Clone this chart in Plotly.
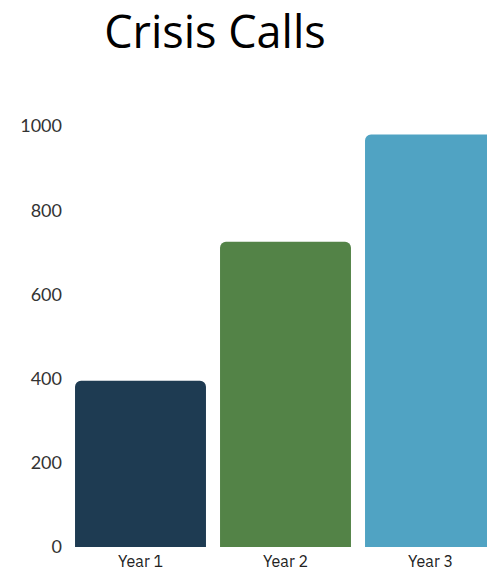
import plotly.graph_objects as go

categories = ["Year 1", "Year 2", "Year 3"]
values = [395, 725, 980]
colors = ["#1e3b52", "#538347", "#50a3c3"]
y_ticks = [0, 200, 400, 600, 800, 1000]

W, H = 487, 571
ml, mr, mt, mb = 68, 0, 126, 24
slot = 145
plot_w = W - ml - mr

fig = go.Figure(go.Bar(
    x=categories, y=values,
    marker=dict(color=colors, cornerradius=6, line=dict(width=0)),
    hoverinfo="skip",
))

fig.update_layout(
    width=W, height=H,
    margin=dict(l=ml, r=mr, t=mt, b=mb, autoexpand=False),
    paper_bgcolor="white", plot_bgcolor="white",
    bargap=0.097,
    showlegend=False,
    title=dict(
        text="Crisis Calls",
        font=dict(family="Open Sans", size=45, color="#000000"),
        xref="container", yref="container",
        x=215 / W, xanchor="center",
        y=1 - 32 / H, yanchor="middle",
    ),
)
fig.update_xaxes(
    type="category",
    range=[-0.5, -0.5 + plot_w / slot],
    showgrid=False, zeroline=False, showline=False, ticks="",
    automargin=False,
    tickfont=dict(family="IBM Plex Sans, Noto Sans", size=16, color="#222222"),
    ticklabelstandoff=3,
)
fig.update_yaxes(
    range=[0, 1000],
    tickvals=y_ticks,
    showgrid=False, zeroline=False, showline=False, ticks="",
    automargin=False,
    tickfont=dict(family="Lato", size=18, color="#333333"),
    ticklabelstandoff=5,
)

fig.write_html(
    "out.html",
    config={"displayModeBar": False},
    post_script="document.body.style.margin='0';",
)
